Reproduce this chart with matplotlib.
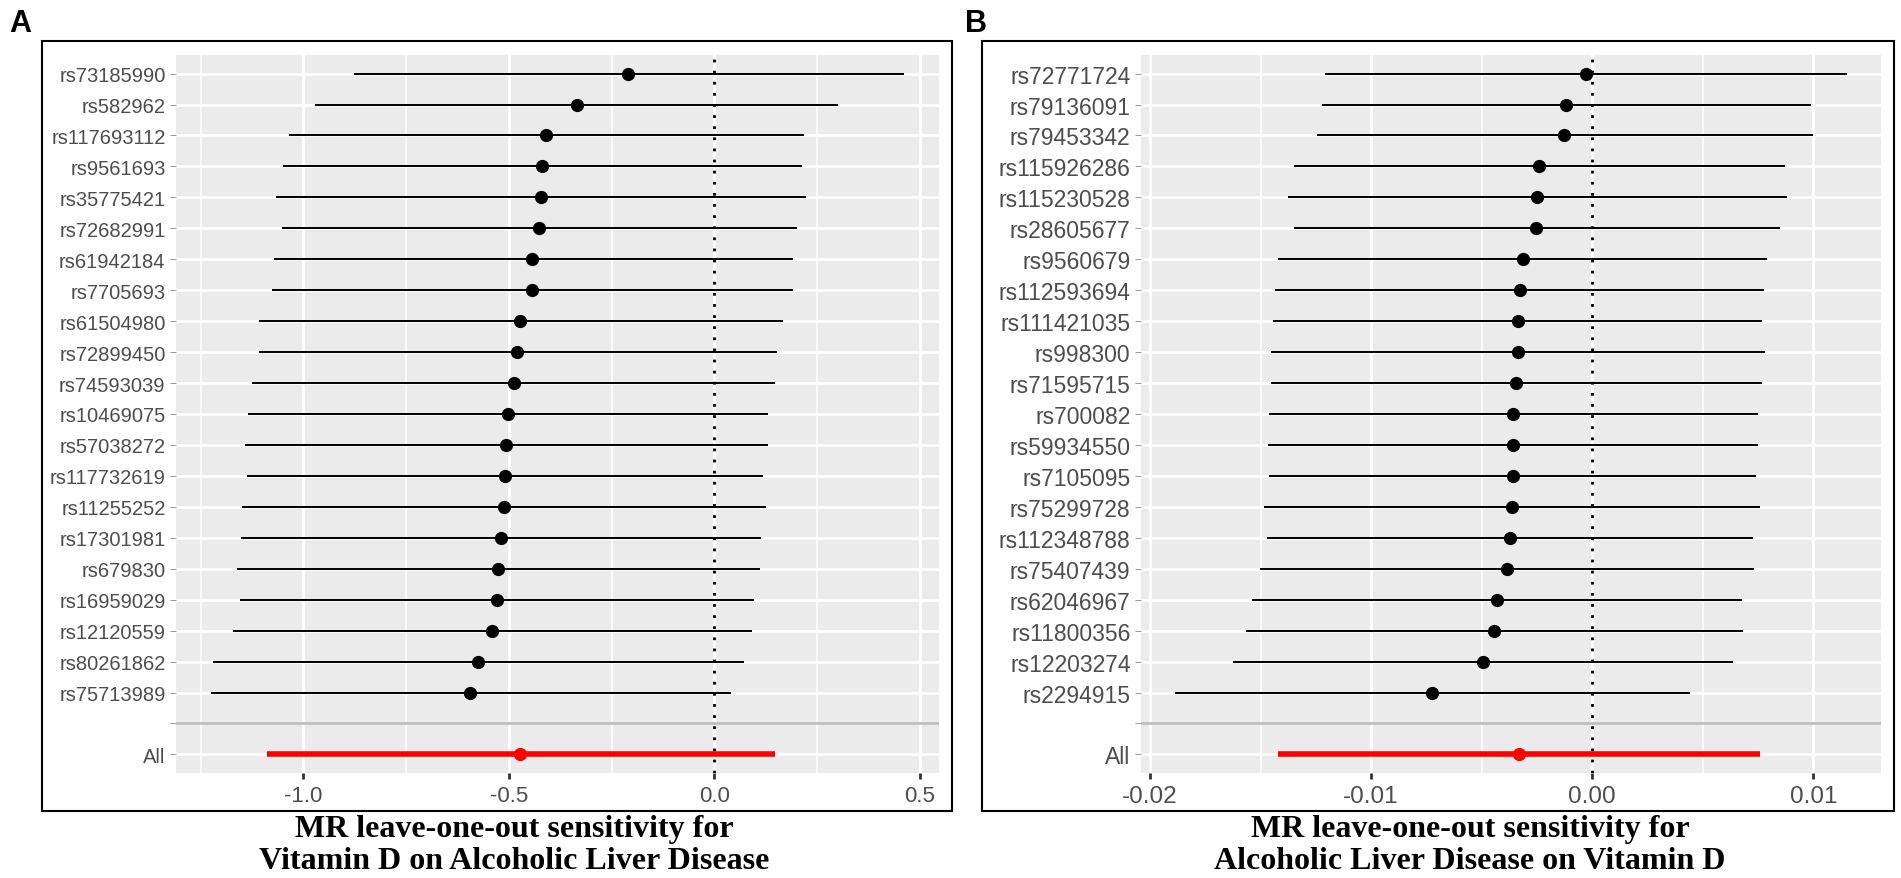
import matplotlib.pyplot as plt
from matplotlib.patches import Rectangle
import numpy as np

# Panel A - Vitamin D on Alcoholic Liver Disease
snps_a = ['rs73185990', 'rs582962', 'rs117693112', 'rs9561693', 'rs35775421',
          'rs72682991', 'rs61942184', 'rs7705693', 'rs61504980', 'rs72899450',
          'rs74593039', 'rs10469075', 'rs57038272', 'rs117732619', 'rs11255252',
          'rs17301981', 'rs679830', 'rs16959029', 'rs12120559', 'rs80261862',
          'rs75713989']
b_a = [-0.209, -0.335, -0.410, -0.420, -0.422, -0.426, -0.443, -0.443, -0.472,
       -0.480, -0.488, -0.502, -0.506, -0.509, -0.511, -0.520, -0.527, -0.529,
       -0.540, -0.575, -0.594]
lo_a = [-0.878, -0.971, -1.036, -1.051, -1.066, -1.053, -1.073, -1.076, -1.109,
        -1.108, -1.125, -1.134, -1.143, -1.138, -1.149, -1.153, -1.163, -1.155,
        -1.171, -1.221, -1.226]
up_a = [0.463, 0.301, 0.218, 0.213, 0.224, 0.202, 0.191, 0.191, 0.168,
        0.152, 0.149, 0.132, 0.130, 0.120, 0.127, 0.113, 0.111, 0.098,
        0.093, 0.072, 0.040]
all_a = [-0.472, -1.089, 0.149]  # b, lo, up
ticks_a = [-1.0, -0.5, 0.0, 0.5]
minor_a = [-1.25, -0.75, -0.25, 0.25]

# Panel B - Alcoholic Liver Disease on Vitamin D
snps_b = ['rs72771724', 'rs79136091', 'rs79453342', 'rs115926286', 'rs115230528',
          'rs28605677', 'rs9560679', 'rs112593694', 'rs111421035', 'rs998300',
          'rs71595715', 'rs700082', 'rs59934550', 'rs7105095', 'rs75299728',
          'rs112348788', 'rs75407439', 'rs62046967', 'rs11800356', 'rs12203274',
          'rs2294915']
b_b = [-0.00029, -0.00117, -0.00128, -0.00240, -0.00248, -0.00253, -0.00314,
       -0.00328, -0.00338, -0.00338, -0.00344, -0.00357, -0.00357, -0.00360,
       -0.00365, -0.00373, -0.00386, -0.00432, -0.00445, -0.00496, -0.00725]
lo_b = [-0.01210, -0.01223, -0.01247, -0.01348, -0.01375, -0.01351, -0.01420,
        -0.01434, -0.01444, -0.01455, -0.01455, -0.01463, -0.01466, -0.01460,
        -0.01484, -0.01471, -0.01505, -0.01540, -0.01567, -0.01625, -0.01889]
up_b = [0.01154, 0.00989, 0.00997, 0.00871, 0.00882, 0.00850, 0.00791,
        0.00778, 0.00770, 0.00781, 0.00770, 0.00749, 0.00751, 0.00741,
        0.00757, 0.00727, 0.00733, 0.00679, 0.00682, 0.00637, 0.00440]
all_b = [-0.00330, -0.01420, 0.00759]
ticks_b = [-0.02, -0.01, 0.00, 0.01]
minor_b = [-0.015, -0.005, 0.005]

W, H = 1901, 879
fig = plt.figure(figsize=(W / 100, H / 100), dpi=100)
fig.patch.set_facecolor('white')


def px_rect(x0, y0, x1, y1):
    # pixel box (top-left origin) -> figure fraction rect
    return [x0 / W, 1 - y1 / H, (x1 - x0) / W, (y1 - y0) / H]


def draw_panel(rect, snps, b, lo, up, allrow, ticks, minor, fmt, ysize, xsize):
    ax = fig.add_axes(rect)
    ax.set_facecolor('#EBEBEB')
    n = len(snps)
    ys = np.arange(n + 1, 1, -1)

    ax.axvline(0, color='black', lw=2, ls=(0, (1, 3)), zorder=2)
    ax.hlines(ys, lo, up, color='black', lw=1.4, zorder=3)
    ax.plot(b, ys, 'o', color='black', ms=8.5, zorder=4)
    ax.hlines(0, allrow[1], allrow[2], color='#FF0000', lw=4, zorder=3)
    ax.plot([allrow[0]], [0], 'o', color='#FF0000', ms=8.5, zorder=4)
    ax.axhline(1, color='#BEBEBE', lw=2, zorder=5)

    # ggplot-like 5% expansion
    lo_all = min(min(lo), allrow[1])
    hi_all = max(max(up), allrow[2])
    pad = 0.05 * (hi_all - lo_all)
    ax.set_xlim(lo_all - pad, hi_all + pad)
    ax.set_ylim(-0.6, n + 1.6)

    ax.set_yticks(list(ys) + [1, 0])
    ax.set_yticklabels(snps + ['', 'All'])
    ax.set_xticks(ticks)
    ax.set_xticklabels([fmt % t for t in ticks])
    ax.set_xticks(minor, minor=True)

    ax.set_axisbelow(True)
    ax.grid(which='major', color='white', lw=2)
    ax.grid(which='minor', axis='x', color='white', lw=1.1)
    for s in ax.spines.values():
        s.set_visible(False)
    ax.tick_params(axis='y', length=4.5, width=0.7, color='#9A9A9A', pad=3,
                   labelsize=ysize, labelcolor='#4D4D4D')
    ax.tick_params(axis='x', which='major', length=4.5, width=2, color='#333333',
                   pad=4, labelsize=xsize, labelcolor='#4D4D4D')
    ax.tick_params(axis='x', which='minor', length=0)
    for lab in ax.get_xticklabels() + ax.get_yticklabels():
        lab.set_fontfamily('Liberation Sans')
    return ax


draw_panel(px_rect(176, 56, 939, 774), snps_a, b_a, lo_a, up_a, all_a,
           ticks_a, minor_a, '%.1f', 14.5, 16)
draw_panel(px_rect(1141, 56, 1881, 774), snps_b, b_b, lo_b, up_b, all_b,
           ticks_b, minor_b, '%.2f', 16.5, 17.5)

# outer frames
for x0, x1 in [(42, 952), (982, 1894)]:
    r = px_rect(x0, 42, x1, 812)
    fig.add_artist(Rectangle((r[0], r[1]), r[2], r[3], transform=fig.transFigure,
                             fill=False, ec='black', lw=1.5))

# panel letters
fig.text(9 / W, 1 - 32 / H, 'A', fontsize=22, fontweight='bold',
         family='Liberation Sans', va='baseline', ha='left')
fig.text(965 / W, 1 - 32 / H, 'B', fontsize=22, fontweight='bold',
         family='Liberation Sans', va='baseline', ha='left')

# axis titles
titles = [(514, ['MR leave-one-out sensitivity for',
                 'Vitamin D on Alcoholic Liver Disease']),
          (1470, ['MR leave-one-out sensitivity for',
                  'Alcoholic Liver Disease on Vitamin D'])]
for xc, lines in titles:
    for yc, txt in zip([830, 862], lines):
        fig.text(xc / W, 1 - yc / H, txt, fontsize=23, fontweight='bold',
                 family='Liberation Serif', ha='center', va='center')

fig.savefig('out.png', dpi=100)
